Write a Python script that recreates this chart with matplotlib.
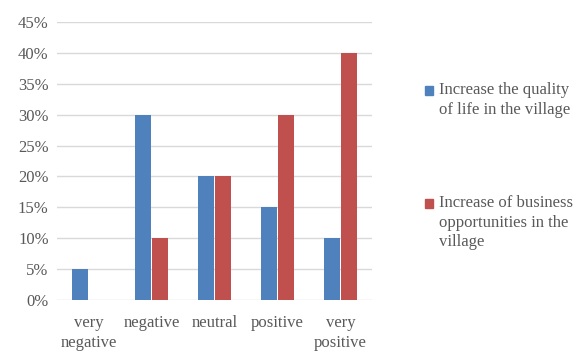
import matplotlib.pyplot as plt
import matplotlib.patches as mpatches
from matplotlib.legend_handler import HandlerPatch
import numpy as np

plt.rcParams['font.family'] = ['Liberation Serif', 'DejaVu Serif']

categories = ["very\nnegative", "negative", "neutral", "positive", "very\npositive"]
quality_of_life = [5, 30, 20, 15, 10]
business = [0, 10, 20, 30, 40]
labels = ["Increase the quality\nof life in the village",
          "Increase of business\nopportunities in the\nvillage"]

blue = "#4f81bd"
red = "#c0504d"
grey = "#595959"


def top_aligned(nlines):
	# legend square sits next to the first line of a multi-line label
	def make(legend, orig_handle, xdescent, ydescent, width, height, fontsize):
		off = (nlines - 1) / 2 * 1.17 * fontsize
		return mpatches.Rectangle((-xdescent, -ydescent + off), width, height)
	return HandlerPatch(patch_func=make)


def main():
	fig = plt.figure(figsize=(5.83, 3.51), dpi=100)
	ax = fig.add_axes([57 / 583, 51 / 351, 315 / 583, 278 / 351])

	x = np.arange(len(categories))
	w = 0.24
	ax.bar(x - w / 2 - 0.015, quality_of_life, w, color=blue, zorder=3)
	ax.bar(x + w / 2 + 0.015, business, w, color=red, zorder=3)

	ax.set_xlim(-0.5, len(categories) - 0.5)
	ax.set_ylim(0, 45)
	ax.set_yticks(range(0, 50, 5))
	ax.set_yticklabels([f"{v}%" for v in range(0, 50, 5)])
	ax.set_xticks(x)
	ax.set_xticklabels(categories, linespacing=1.35)
	ax.grid(axis='y', color="#d9d9d9", linewidth=1, zorder=0)
	for s in ax.spines.values():
		s.set_visible(False)
	ax.tick_params(length=0, labelsize=12, colors=grey)
	ax.tick_params(axis='x', pad=11)
	ax.tick_params(axis='y', pad=6)

	h1 = mpatches.Patch(color=blue)
	h2 = mpatches.Patch(color=red)
	leg = fig.legend([h1, h2], labels, loc='upper left', bbox_to_anchor=(410 / 583, 1 - 67 / 351),
		frameon=False, fontsize=12, labelcolor=grey, handlelength=0.45, handleheight=0.45,
		handletextpad=0.4, labelspacing=4.65,
		handler_map={h1: top_aligned(2), h2: top_aligned(3)})
	for t in leg.get_texts():
		t.set_linespacing(1.3)

	fig.savefig("out.png", dpi=100)


if __name__ == '__main__':
	main()
